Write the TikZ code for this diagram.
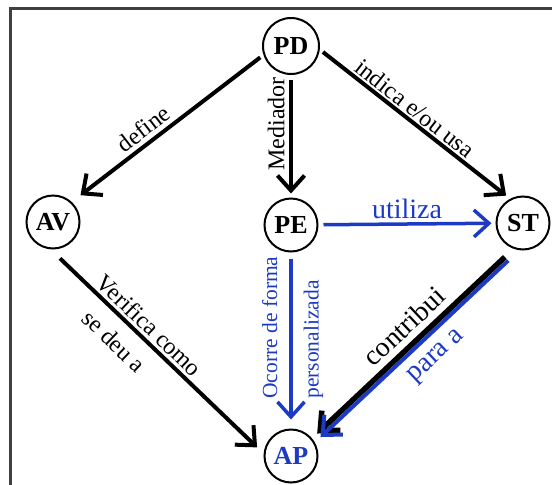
\documentclass[tikz,border=0pt]{standalone}
\usepackage{fontspec}
\setmainfont{Liberation Serif}
\usepackage{xcolor}
\usepackage{tikz}
\usetikzlibrary{arrows.meta,positioning}
\definecolor{azul}{RGB}{28,58,196}
\definecolor{moldura}{RGB}{64,64,64}
\tikzset{
  conc/.style = {circle, draw=black, line width=2pt, minimum size=53pt, inner sep=0pt, font=\fontsize{26}{30}\selectfont\bfseries},
  seta/.style = {line width=4pt, -{Straight Barb[length=15pt,width=27pt]}, shorten <=4pt, shorten >=4pt},
  seta_az/.style = {seta, draw=azul, line width=3.5pt},
  rot/.style = {font=\fontsize{24}{28}\selectfont, inner sep=4pt},
  rot_p/.style = {font=\fontsize{21.5}{25}\selectfont, text=azul, rotate=90, inner xsep=0pt},
  rot_g/.style = {font=\fontsize{28}{32}\selectfont, inner sep=4pt}
}
\begin{document}
\begin{tikzpicture}[x=1pt,y=-1pt]
\useasboundingbox (0,0) rectangle (552,485);
\draw[moldura, line width=2.5pt] (10.5,485) -- (10.5,8.5) -- (552,8.5);

\node[conc, minimum size=56pt] (PD) at (291,46) {PD};
\node[conc] (AV) at (53,222) {AV};
\node[conc] (PE) at (291,225) {PE};
\node[conc] (ST) at (523,223) {ST};
\node[conc, text=azul] (AP) at (291,456) {AP};

\draw[seta, shorten >=11pt] (PD.198) -- node[rot, sloped, above, pos=0.58, inner sep=4pt] {define} (AV.47);
\draw[seta, shorten <=5pt] (PD) -- node[rot, rotate=90, above, pos=0.4, inner sep=4.5pt] {Mediador} (PE);
\draw[seta, shorten >=5pt] (PD.353) -- node[rot, sloped, above, pos=0.46, inner sep=2pt] {indica e/ou usa} (ST.118);

\draw[seta_az, shorten <=5pt] (PE) -- node[rot_g, text=azul, above, inner sep=3pt] {utiliza} (ST);
\draw[seta_az, shorten <=6pt, shorten >=9pt] (PE) --
  node[rot_p, anchor=south west, inner ysep=12pt, pos=0.84] {Ocorre de forma}
  node[rot_p, anchor=north west, inner ysep=11pt, pos=0.84] {personalizada} (AP);

\draw[seta, shorten <=13pt, shorten >=9pt] (AV.265) --
  node[rot, sloped, above, pos=0.42, inner sep=3pt] {Verifica como}
  node[rot, sloped, below, pos=0.37, inner sep=12pt] {se deu a} (AP.175);

\draw[seta, line width=5.5pt, shorten <=12pt, shorten >=7pt] (ST.250) -- node[rot_g, sloped, above, pos=0.48, inner sep=6pt] {contribui} (AP.40);
\draw[seta_az, line width=4pt, shorten <=12pt, shorten >=7pt, transform canvas={xshift=3.3pt, yshift=-3.5pt}] (ST.250) -- node[rot_g, text=azul, sloped, below, pos=0.47, inner sep=10pt] {para a} (AP.40);
\end{tikzpicture}
\end{document}
